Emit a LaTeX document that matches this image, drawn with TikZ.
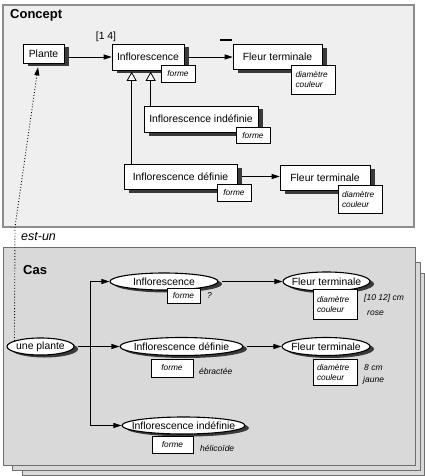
\documentclass[tikz,border=0pt]{standalone}
\usepackage{fontspec}
\setmainfont{Liberation Sans}
\usetikzlibrary{arrows.meta,calc,shapes.geometric}
\definecolor{cfill}{HTML}{EFEFEF}
\definecolor{cdraw}{HTML}{8C8C8C}
\definecolor{kfill}{HTML}{D9D9D9}
\definecolor{kdraw}{HTML}{6E6E6E}
\definecolor{shadowc}{HTML}{3A3A3A}
\begin{document}
\begin{tikzpicture}[x=1pt,y=-1pt,
  lbl/.style={font=\fontsize{10.4}{12}\selectfont},
  ttl/.style={font=\fontsize{13}{15}\selectfont\bfseries, anchor=west, inner sep=0pt},
  cbox/.style={draw, fill=white, line width=0.7pt, inner sep=0pt, lbl},
  ell/.style={shape=ellipse, draw, fill=white, line width=1.1pt, inner sep=0pt, lbl},
  shbox/.style={fill=shadowc, inner sep=0pt},
  shell/.style={shape=ellipse, fill=shadowc, inner sep=0pt},
  attr/.style={draw, fill=white, line width=0.7pt, inner sep=0pt,
    font=\fontsize{8.3}{10}\selectfont\itshape},
  attr2/.style={attr, text width=36pt, inner xsep=4pt, align=left},
  note/.style={font=\fontsize{8.5}{10}\selectfont\itshape, anchor=west, inner sep=0pt},
  arr/.style={line width=0.8pt, -{Triangle[length=8pt,width=5pt]}},
  gen/.style={line width=0.8pt, -{Triangle[length=9pt,width=10pt,fill=white,line width=0.8pt]}},
  frameC/.style={draw=cdraw, fill=cfill, line width=1.6pt},
  frameK/.style={draw=kdraw, fill=kfill, line width=1pt}
]
\useasboundingbox (0,0) rectangle (425,476);

% ---------- frames ----------
\draw[frameC] (3,5) rectangle (414,227);
\draw[frameK] (22,273) rectangle (424,475);
\draw[frameK] (12,262) rectangle (420,470);
\draw[frameK] (3,247) rectangle (415,465);

% ---------- Concept ----------
\node[ttl] (tconcept) at (10,15) {Concept};

\node[shbox, minimum width=41pt, minimum height=19pt] (plantes) at (48.5,57) {};
\node[cbox, minimum width=41pt, minimum height=19pt] (plante) at (43.5,53.5) {Plante};
\node[shbox, minimum width=72pt, minimum height=26pt] (infcs) at (153,60.5) {};
\node[cbox, minimum width=72pt, minimum height=26pt] (infc) at (148,57) {Inflorescence};
\node[attr, minimum width=34pt, minimum height=17pt] (forme1) at (178,73.5) {forme};
\node[lbl, inner sep=0pt] (card) at (106,37) {[1 4]};
\node[fill=black, minimum width=12pt, minimum height=2.4pt, inner sep=0pt] (bar) at (226,40) {};

\node[shbox, minimum width=89pt, minimum height=25pt] (ft1s) at (282.5,60.5) {};
\node[cbox, minimum width=89pt, minimum height=25pt] (ft1) at (277.5,57) {Fleur terminale};
\node[attr2, minimum height=29pt] (dc1) at (313.5,79.5) {diamètre\\couleur};

\node[shbox, minimum width=114pt, minimum height=26pt] (infis) at (206,122.5) {};
\node[cbox, minimum width=114pt, minimum height=26pt] (infi) at (201,119) {Inflorescence indéfinie};
\node[attr, minimum width=34pt, minimum height=16pt] (forme2) at (253,135.5) {forme};

\node[shbox, minimum width=113pt, minimum height=25pt] (infds) at (185.5,180) {};
\node[cbox, minimum width=113pt, minimum height=25pt] (infd) at (180.5,176.5) {Inflorescence définie};
\node[attr, minimum width=34pt, minimum height=17pt] (forme3) at (234,192.5) {forme};

\node[shbox, minimum width=90pt, minimum height=25pt] (ft2s) at (330,181) {};
\node[cbox, minimum width=90pt, minimum height=25pt] (ft2) at (325,177.5) {Fleur terminale};
\node[attr2, minimum height=28pt] (dc2) at (360,199) {diamètre\\couleur};

\draw[arr] (plantes.east |- infc.west) -- (infc.west);
\draw[arr] (infcs.east |- infc.east) -- (infc.east -| ft1.west);
\draw[arr] (infds.east |- infd.east) -- (infd.east -| ft2.west);
\coordinate (g1) at ($(infc.south west)+(20,1.5)$);
\coordinate (g2) at ($(infc.south west)+(39,1.5)$);
\draw[gen] (g1 |- infd.north) -- (g1);
\draw[gen] (g2 |- infi.north) -- (g2);

% ---------- Cas ----------
\node[ttl] (tcas) at (23,270) {Cas};

\node[shell, minimum width=67pt, minimum height=17pt] (ups) at (44.5,349) {};
\node[ell, minimum width=67pt, minimum height=17pt] (up) at (40.5,346.5) {\makebox[0pt]{une plante}};
\node[shell, minimum width=108pt, minimum height=17pt] (e1s) at (168,284) {};
\node[ell, minimum width=108pt, minimum height=17pt] (e1) at (164,281.5) {\makebox[0pt]{Inflorescence}};
\node[attr, minimum width=33pt, minimum height=15pt] (fe1a) at (183.5,295.5) {forme};
\node[note] (q) at (207,296) {?};

\node[shell, minimum width=87pt, minimum height=19pt] (fe1s) at (330.5,284) {};
\node[ell, minimum width=87pt, minimum height=19pt] (fe1) at (326.5,281.5) {\makebox[0pt]{Fleur terminale}};
\node[attr2, minimum height=30pt] (dce1) at (335,304) {diamètre\\couleur};
\node[note] (n1) at (364,298) {[10 12] cm};
\node[note] (n2) at (367,313) {rose};

\node[shell, minimum width=123pt, minimum height=18pt] (eds) at (185.5,349) {};
\node[ell, minimum width=123pt, minimum height=18pt] (ed) at (181.5,346.5) {\makebox[0pt]{Inflorescence définie}};
\node[attr, minimum width=42pt, minimum height=18pt] (fed) at (172,368) {forme};
\node[note] (n3) at (199,371) {ébractée};

\node[shell, minimum width=88pt, minimum height=18pt] (fe2s) at (330,349) {};
\node[ell, minimum width=88pt, minimum height=18pt] (fe2) at (326,346.5) {\makebox[0pt]{Fleur terminale}};
\node[attr2, minimum height=26pt] (dce2) at (335,372) {diamètre\\couleur};
\node[note] (n4) at (364,368) {8 cm};
\node[note] (n5) at (363,380) {jaune};

\node[shell, minimum width=123pt, minimum height=17pt] (eis) at (187.5,428) {};
\node[ell, minimum width=123pt, minimum height=17pt] (ei) at (183.5,425.5) {\makebox[0pt]{Inflorescence indéfinie}};
\node[attr, minimum width=41pt, minimum height=17pt] (fei) at (172.5,444.5) {forme};
\node[note] (n6) at (200,448) {hélicoïde};

\coordinate (br) at ($(up.east)+(16,0)$);
\draw[arr] (ups.east |- up.east) -- (ed.west);
\draw[arr] (br) |- (e1.west);
\draw[arr] (br) |- (ei.west);
\draw[arr] (e1s.east |- e1.east) -- (fe1.west);
\draw[arr] (eds.east |- ed.east) -- (fe2.west);

% ---------- est-un ----------
\coordinate (d0) at ($(up.west)+(8,-5.5)$);
\coordinate (d1) at (15,227);
\draw[dotted, line width=0.9pt, -{Triangle[length=8pt,width=5pt]}] (d0) -- (d1) -- ($(plante.south)+(-5.5,4)$);
\node[font=\fontsize{12.5}{14}\selectfont\itshape, anchor=west, inner sep=0pt] (estun) at (21,237) {est-un};
\end{tikzpicture}
\end{document}
